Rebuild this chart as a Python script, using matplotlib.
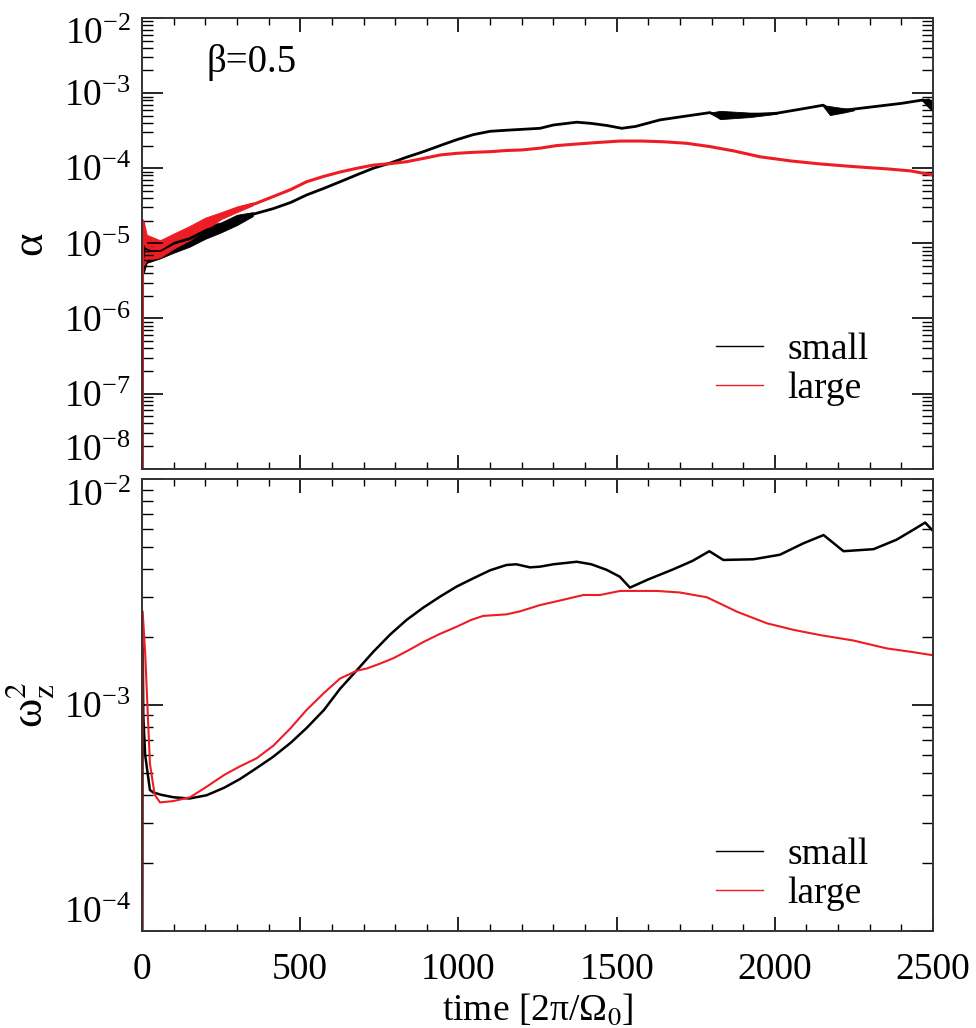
import matplotlib
matplotlib.use("Agg")
import matplotlib.pyplot as plt
import numpy as np
from matplotlib.ticker import LogLocator, MultipleLocator, NullFormatter

plt.rcParams['font.family'] = ['Liberation Serif', 'DejaVu Serif']
plt.rcParams['mathtext.fontset'] = 'stix'

FS = 27

# ---- top panel: alpha ----
alpha_small_t = [0, 2, 8, 15, 30, 57, 100, 150, 204, 250, 310, 360, 415, 470, 520, 575,
                 626, 680, 731, 784, 836, 889, 942, 995, 1047, 1100, 1150, 1205, 1258,
                 1300, 1374, 1420, 1470, 1516, 1560, 1637, 1720, 1795, 1815, 1840, 1922,
                 2006, 2080, 2153, 2175, 2217, 2300, 2400, 2468, 2500]
alpha_small = [1e-9, 6e-6, 9e-6, 8.5e-6, 8e-6, 8e-6, 1.0e-5, 1.15e-5, 1.5e-5, 1.75e-5,
               2.2e-5, 2.5e-5, 2.9e-5, 3.5e-5, 4.4e-5, 5.4e-5, 6.6e-5, 8.2e-5, 1.0e-4,
               1.17e-4, 1.4e-4, 1.66e-4, 2.0e-4, 2.4e-4, 2.8e-4, 3.1e-4, 3.2e-4, 3.3e-4,
               3.4e-4, 3.76e-4, 4.1e-4, 3.95e-4, 3.7e-4, 3.4e-4, 3.6e-4, 4.4e-4, 4.95e-4,
               5.5e-4, 5.0e-4, 5.0e-4, 5.1e-4, 5.4e-4, 6.1e-4, 6.9e-4, 6.0e-4, 5.9e-4,
               6.5e-4, 7.3e-4, 8.1e-4, 6.5e-4]
# noisy envelope of the small run (None separates segments)
alpha_small_band_t = [5, 15, 57, 100, 150, 200, 250, 300, 350, None,
                      1795, 1827, 1922, 2006, None, 2150, 2174, 2217, 2250, None,
                      2465, 2485, 2500]
alpha_small_lo = [4e-6, 5.5e-6, 6.3e-6, 7.5e-6, 9e-6, 1.15e-5, 1.4e-5, 1.75e-5, 2.3e-5, None,
                  5.5e-4, 4.5e-4, 4.8e-4, 5.3e-4, None, 6.9e-4, 5.1e-4, 5.5e-4, 5.9e-4, None,
                  8.0e-4, 6.5e-4, 5.7e-4]
alpha_small_hi = [1.2e-5, 1.1e-5, 1.0e-5, 1.2e-5, 1.4e-5, 1.7e-5, 1.9e-5, 2.4e-5, 2.6e-5, None,
                  5.5e-4, 5.8e-4, 5.5e-4, 5.5e-4, None, 6.9e-4, 6.7e-4, 6.3e-4, 6.1e-4, None,
                  8.2e-4, 8.5e-4, 7.5e-4]

alpha_large_t = [0, 2, 5, 15, 30, 57, 100, 150, 204, 250, 310, 360, 415, 470, 520, 575,
                 626, 680, 731, 784, 836, 889, 942, 995, 1050, 1100, 1150, 1200, 1258,
                 1310, 1374, 1440, 1511, 1580, 1648, 1720, 1795, 1870, 1953, 2050, 2143,
                 2250, 2354, 2430, 2500]
alpha_large = [1e-9, 2e-5, 1.2e-5, 9e-6, 8.5e-6, 8.5e-6, 1.1e-5, 1.4e-5, 1.87e-5, 2.4e-5,
               2.95e-5, 3.4e-5, 4.2e-5, 5.2e-5, 6.6e-5, 7.8e-5, 8.9e-5, 1.0e-4, 1.1e-4,
               1.15e-4, 1.22e-4, 1.35e-4, 1.5e-4, 1.58e-4, 1.63e-4, 1.66e-4, 1.72e-4,
               1.75e-4, 1.85e-4, 2.0e-4, 2.1e-4, 2.2e-4, 2.3e-4, 2.3e-4, 2.25e-4, 2.15e-4,
               1.94e-4, 1.7e-4, 1.42e-4, 1.25e-4, 1.14e-4, 1.05e-4, 9.8e-5, 9.2e-5, 8.1e-5]
alpha_large_band_t = [5, 15, 57, 100, 150, 200, 250, 300, 350]
alpha_large_lo = [5e-6, 6e-6, 6.5e-6, 8.5e-6, 1.1e-5, 1.5e-5, 2.1e-5, 2.6e-5, 3.2e-5]
alpha_large_hi = [2e-5, 1.3e-5, 1.1e-5, 1.35e-5, 1.7e-5, 2.2e-5, 2.6e-5, 3.1e-5, 3.5e-5]

# ---- bottom panel: omega_z^2 ----
omega_small_t = [0, 2, 4, 10, 25, 35, 60, 99, 150, 204, 260, 310, 362, 415, 470, 520, 575,
                 626, 680, 731, 784, 836, 889, 942, 995, 1047, 1100, 1152, 1183, 1226,
                 1258, 1300, 1374, 1420, 1468, 1510, 1542, 1600, 1679, 1740, 1793, 1837,
                 1932, 2016, 2090, 2154, 2217, 2312, 2385, 2440, 2475, 2500]
omega_small = [1e-5, 2.2e-3, 9e-4, 6e-4, 4.2e-4, 4.1e-4, 4.0e-4, 3.9e-4, 3.85e-4, 3.98e-4,
               4.3e-4, 4.7e-4, 5.25e-4, 5.9e-4, 6.8e-4, 7.9e-4, 9.5e-4, 1.18e-3, 1.43e-3,
               1.72e-3, 2.05e-3, 2.38e-3, 2.7e-3, 3.02e-3, 3.35e-3, 3.64e-3, 3.95e-3,
               4.17e-3, 4.2e-3, 4.07e-3, 4.1e-3, 4.2e-3, 4.31e-3, 4.2e-3, 3.97e-3, 3.7e-3,
               3.31e-3, 3.6e-3, 3.99e-3, 4.35e-3, 4.8e-3, 4.39e-3, 4.42e-3, 4.63e-3, 5.2e-3,
               5.66e-3, 4.8e-3, 4.9e-3, 5.4e-3, 6.0e-3, 6.43e-3, 5.9e-3]

omega_large_t = [0, 2, 10, 25, 40, 57, 99, 152, 204, 260, 310, 362, 415, 470, 520, 575, 626,
                 680, 710, 750, 794, 840, 889, 940, 994, 1040, 1078, 1152, 1195, 1258, 1320,
                 1395, 1447, 1511, 1570, 1627, 1700, 1785, 1830, 1880, 1975, 2060, 2143,
                 2248, 2354, 2430, 2500]
omega_large = [1e-5, 2.6e-3, 1.7e-3, 5.5e-4, 4.0e-4, 3.7e-4, 3.75e-4, 3.9e-4, 4.34e-4,
               4.9e-4, 5.35e-4, 5.8e-4, 6.6e-4, 7.9e-4, 9.5e-4, 1.13e-3, 1.31e-3, 1.42e-3,
               1.45e-3, 1.52e-3, 1.61e-3, 1.74e-3, 1.9e-3, 2.06e-3, 2.22e-3, 2.38e-3,
               2.48e-3, 2.52e-3, 2.6e-3, 2.77e-3, 2.9e-3, 3.07e-3, 3.07e-3, 3.2e-3, 3.2e-3,
               3.2e-3, 3.15e-3, 3.0e-3, 2.8e-3, 2.59e-3, 2.3e-3, 2.15e-3, 2.04e-3, 1.93e-3,
               1.78e-3, 1.72e-3, 1.66e-3]

x_ticks = [0, 500, 1000, 1500, 2000, 2500]
alpha_yticks = [1e-8, 1e-7, 1e-6, 1e-5, 1e-4, 1e-3, 1e-2]
omega_yticks = [1e-4, 1e-3, 1e-2]
RED = "#ee1c24"


def band(ax, t, lo, hi, color):
    t = np.array([np.nan if v is None else v for v in t], dtype=float)
    lo = np.array([np.nan if v is None else v for v in lo], dtype=float)
    hi = np.array([np.nan if v is None else v for v in hi], dtype=float)
    # draw each segment separately
    idx = np.where(np.isnan(t))[0]
    starts = np.concatenate([[0], idx + 1])
    ends = np.concatenate([idx, [len(t)]])
    for s, e in zip(starts, ends):
        ax.fill_between(t[s:e], lo[s:e], hi[s:e], color=color, lw=0.6, ec=color)


def style_axis(ax, yticks):
    ax.set_yscale("log")
    ax.set_xlim(0, 2500)
    ax.set_ylim(yticks[0], yticks[-1])
    ax.set_xticks(x_ticks)
    ax.xaxis.set_minor_locator(MultipleLocator(100))
    ax.set_yticks(yticks)
    ax.yaxis.set_minor_locator(LogLocator(base=10, subs=np.arange(2, 10), numticks=20))
    ax.yaxis.set_minor_formatter(NullFormatter())
    ax.tick_params(which="both", direction="in", top=True, right=True,
                   labelsize=FS, colors="black")
    ax.tick_params(axis="x", which="major", length=10, width=1.2, pad=16)
    ax.tick_params(axis="x", which="minor", length=5, width=1.0)
    ax.tick_params(axis="y", which="major", length=15, width=1.2, pad=8)
    ax.tick_params(axis="y", which="minor", length=8, width=1.0)
    for sp in ax.spines.values():
        sp.set_linewidth(1.4)
        sp.set_color("#333333")
    # keep end labels inside the panel, like the original
    ticks = ax.yaxis.get_major_ticks()
    ticks[0].label1.set_va("bottom")
    ticks[-1].label1.set_va("top")


fig = plt.figure(figsize=(9.76, 10.28), dpi=100)
ax1 = fig.add_axes([0.1455, 0.5441, 0.8105, 0.4384])
ax2 = fig.add_axes([0.1455, 0.0947, 0.8105, 0.4391])

# top
band(ax1, alpha_small_band_t, alpha_small_lo, alpha_small_hi, "black")
band(ax1, alpha_large_band_t, alpha_large_lo, alpha_large_hi, RED)
ax1.plot(alpha_small_t, alpha_small, color="black", lw=2.0, label="small")
ax1.plot(alpha_large_t, alpha_large, color=RED, lw=2.2, label="large")
style_axis(ax1, alpha_yticks)
ax1.tick_params(axis="x", labelbottom=False)
ax1.text(0.081, 0.902, "β=0.5", transform=ax1.transAxes, fontsize=28,
         ha="left", va="center")
leg1 = ax1.legend(loc="upper left", bbox_to_anchor=(0.7257, 0.302), frameon=False,
                  fontsize=FS, handlelength=1.25, handletextpad=0.65,
                  labelspacing=0.12, borderpad=0, borderaxespad=0)
for h in leg1.get_lines():
    h.set_linewidth(1.0)

# bottom
ax2.plot(omega_small_t, omega_small, color="black", lw=1.8, label="small")
ax2.plot(omega_large_t, omega_large, color=RED, lw=1.5, label="large")
style_axis(ax2, omega_yticks)
ax2.set_xlabel(r"time [2π/Ω${}_0$]", fontsize=FS, labelpad=4)
leg2 = ax2.legend(loc="upper left", bbox_to_anchor=(0.7257, 0.207), frameon=False,
                  fontsize=FS, handlelength=1.25, handletextpad=0.65,
                  labelspacing=0.12, borderpad=0, borderaxespad=0)
for h in leg2.get_lines():
    h.set_linewidth(1.0)

# y labels placed in figure coordinates
fig.text(30 / 976, 1 - 243 / 1028, "α", fontsize=32, rotation=90,
         ha="center", va="center")
fig.text(30 / 976, 1 - 705 / 1028, r"ω${}_\mathrm{z}^{2}$", fontsize=32, rotation=90,
         ha="center", va="center")

fig.savefig("out.png", dpi=100)
